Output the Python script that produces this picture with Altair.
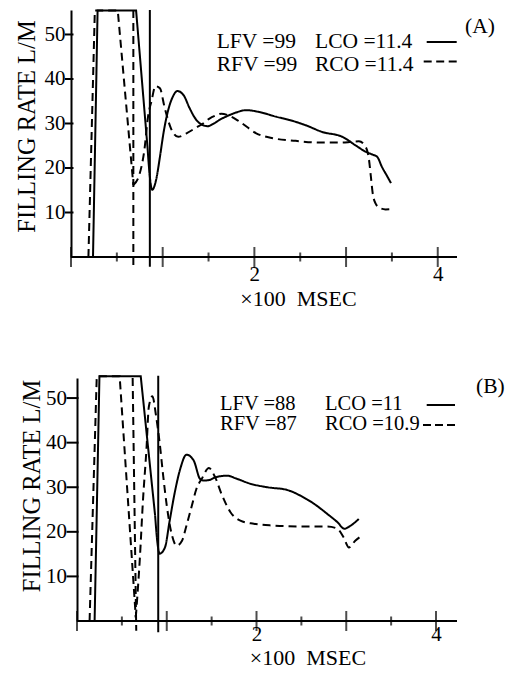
import altair as alt
import pandas as pd

FONT = "Liberation Serif"
PANEL_W = 386

# ---------------- Panel (A) ----------------
a_lco_edge_x = [0.24, 0.29, 0.71, 0.835]
a_lco_edge_y = [0.0, 55.4, 55.4, 24.5]
a_lco_wave_x = [0.835, 0.86, 0.885, 0.93, 0.97, 1.01, 1.06, 1.11, 1.16, 1.23, 1.29, 1.36, 1.43, 1.49, 1.56,
                1.62, 1.73, 1.82, 1.91, 2.05, 2.24, 2.38, 2.56, 2.74, 2.96, 3.11, 3.21, 3.29, 3.34, 3.39,
                3.45, 3.49]
a_lco_wave_y = [24.5, 18.0, 15.1, 17.5, 22.5, 28.0, 33.0, 36.0, 37.3, 36.3, 33.6, 31.0, 29.7, 29.4, 30.0,
                30.8, 31.9, 32.6, 33.0, 32.6, 31.5, 30.8, 29.6, 28.1, 27.0, 25.0, 23.7, 23.0, 22.5, 20.3,
                18.1, 16.6]
a_rco_edge_x = [0.19, 0.26, 0.51, 0.68]
a_rco_edge_y = [0.0, 55.4, 55.4, 16.2]
a_rco_wave_x = [0.68, 0.75, 0.80, 0.84, 0.88, 0.92, 0.97, 1.02, 1.09, 1.17, 1.26, 1.36, 1.44, 1.51, 1.58,
                1.64, 1.71, 1.84, 2.02, 2.20, 2.45, 2.71, 2.96, 3.06, 3.14, 3.21, 3.25, 3.27, 3.29, 3.32,
                3.37, 3.43, 3.52]
a_rco_wave_y = [16.2, 18.8, 24.0, 31.5, 35.2, 38.4, 37.9, 33.7, 28.9, 27.0, 27.8, 29.0, 30.0, 31.1, 31.8,
                32.2, 31.9, 30.4, 27.8, 26.7, 26.1, 25.7, 25.7, 25.9, 26.0, 24.9, 21.9, 18.2, 14.4, 12.1,
                11.0, 10.7, 10.8]
# vertical marker lines (x0, x1, y0, y1)
a_marker_solid = [0.86, 0.86, 55.5, -2.2]
a_marker_dashed = [0.68, 0.68, 55.5, -2.8]
a_legend_left = ["LFV =99", "RFV =99"]
a_legend_right = ["LCO =11.4", "RCO =11.4"]
a_label = "(A)"

# ---------------- Panel (B) ----------------
b_lco_edge_x = [0.196, 0.25, 0.71, 0.87]
b_lco_edge_y = [0.0, 54.9, 54.9, 23.7]
b_lco_wave_x = [0.87, 0.90, 0.92, 0.98, 1.03, 1.09, 1.15, 1.22, 1.30, 1.37, 1.41, 1.47, 1.54, 1.67, 1.78,
                1.93, 2.12, 2.34, 2.49, 2.64, 2.79, 2.90, 2.98, 3.05, 3.14]
b_lco_wave_y = [23.7, 16.9, 15.1, 16.5, 22.2, 28.9, 34.1, 37.3, 36.0, 31.9, 31.5, 31.6, 32.2, 32.6, 31.9,
                30.8, 30.0, 29.4, 28.1, 26.3, 24.0, 22.2, 20.7, 21.4, 22.9]
b_rco_edge_x = [0.14, 0.22, 0.475, 0.655]
b_rco_edge_y = [0.0, 54.9, 54.9, 0.8]
b_rco_wave_x = [0.655, 0.70, 0.736, 0.774, 0.80, 0.84, 0.88, 0.92, 0.96, 1.00, 1.05, 1.11, 1.17, 1.22, 1.28,
                1.33, 1.39, 1.47, 1.54, 1.61, 1.71, 1.82, 1.97, 2.19, 2.49, 2.79, 2.90, 2.97, 3.03, 3.10,
                3.18]
b_rco_wave_y = [0.8, 14.0, 27.4, 38.6, 48.0, 50.4, 46.1, 40.1, 32.6, 25.9, 19.9, 16.9, 18.0, 21.4, 25.9,
                29.6, 31.9, 34.3, 32.2, 28.5, 24.4, 22.5, 21.8, 21.4, 21.2, 21.2, 20.7, 18.8, 16.5, 18.0,
                19.2]
b_marker_solid = [0.905, 0.905, 55.0, -2.5]
b_marker_dashed = [0.62, 0.66, 54.5, -2.2]
b_legend_left = ["LFV =88", "RFV =87"]
b_legend_right = ["LCO =11", "RCO =10.9"]
b_label = "(B)"

# ---------------- shared axis content ----------------
x_major_ticks = [0, 1, 2, 3, 4]
x_minor_ticks = [0.5, 1.5, 2.5, 3.5]
x_tick_labels = [2, 4]
y_tick_values = [10, 20, 30, 40, 50]
y_title = "FILLING RATE L/M"
x_title = "\u00d7100\u00a0 MSEC"

DASH = alt.Scale(domain=["solid", "dashed"], range=[[1, 0], [8, 5]])


def series_df(parts):
    rows = []
    for seg, (kind, xs, ys) in enumerate(parts):
        for i, (xv, yv) in enumerate(zip(xs, ys)):
            rows.append({"x": xv, "y": yv, "seg": seg, "kind": kind, "i": i})
    return pd.DataFrame(rows)


def make_panel(edges, waves, markers, xdom, xaxis_end, ydom, height, ycfg, xcfg, texts, samples, anchor):
    xs = alt.Scale(domain=xdom, nice=False, zero=False)
    ys = alt.Scale(domain=ydom, nice=False, zero=False)
    units_per_px = (xdom[1] - xdom[0]) / PANEL_W

    yaxis = alt.Axis(
        title=y_title, values=y_tick_values, grid=False, ticks=False, tickSize=0,
        domainColor="black", domainWidth=2, offset=ycfg["offset"],
        labelFont=FONT, labelFontSize=21, labelColor="black", labelPadding=ycfg["labelPadding"],
        titleFont=FONT, titleFontSize=24.5, titleFontWeight="normal", titleColor="black",
        titleAngle=270, titleAlign="center", titleBaseline="middle",
        titleX=ycfg["titleX"], titleY=ycfg["titleY"],
    )
    xaxis = alt.Axis(
        values=x_tick_labels, grid=False, domain=False, ticks=False, tickSize=0,
        labelFont=FONT, labelFontSize=21, labelColor="black", labelBaseline="alphabetic",
        labelPadding=xcfg["labelPadding"], labelFlush=False,
        title=x_title, titleFont=FONT, titleFontSize=22, titleFontWeight="normal", titleColor="black",
        titleAngle=0, titleAlign="center", titleBaseline="alphabetic",
        titleX=xcfg["titleX"], titleY=xcfg["titleY"],
    )

    wave_layer = alt.Chart(series_df(waves)).mark_line(
        interpolate="monotone", color="black", strokeWidth=2
    ).encode(
        x=alt.X("x:Q", scale=xs, axis=xaxis),
        y=alt.Y("y:Q", scale=ys, axis=yaxis),
        detail="seg:N", order="i:Q",
        strokeDash=alt.StrokeDash("kind:N", scale=DASH, legend=None),
    )
    edge_layer = alt.Chart(series_df(edges)).mark_line(
        interpolate="linear", color="black", strokeWidth=2
    ).encode(
        x=alt.X("x:Q", scale=xs, axis=xaxis),
        y=alt.Y("y:Q", scale=ys, axis=yaxis),
        detail="seg:N", order="i:Q",
        strokeDash=alt.StrokeDash("kind:N", scale=DASH, legend=None),
    )
    mk = pd.DataFrame([{"x0": m[0], "x1": m[1], "y0": m[2], "y1": m[3], "kind": k} for k, m in markers])
    marker_layer = alt.Chart(mk).mark_rule(color="black", strokeWidth=2).encode(
        x=alt.X("x0:Q", scale=xs, axis=xaxis), x2="x1:Q",
        y=alt.Y("y0:Q", scale=ys, axis=yaxis), y2="y1:Q",
        strokeDash=alt.StrokeDash("kind:N", scale=DASH, legend=None),
    )
    one = pd.DataFrame({"v": [0]})
    axis_line = alt.Chart(one).mark_rule(color="black", strokeWidth=2).encode(
        x=alt.XDatum(0, type="quantitative", scale=xs, axis=xaxis),
        x2=alt.X2Datum(xaxis_end),
        y=alt.YDatum(0, type="quantitative", scale=ys, axis=yaxis),
    )
    major = alt.Chart(pd.DataFrame({"t": x_major_ticks})).mark_tick(
        orient="vertical", size=20, thickness=2, color="black"
    ).encode(
        x=alt.X("t:Q", scale=xs, axis=xaxis),
        y=alt.YDatum(0, type="quantitative", scale=ys, axis=yaxis),
    )
    minor = alt.Chart(pd.DataFrame({"t": x_minor_ticks})).mark_tick(
        orient="vertical", size=9, thickness=2, color="black"
    ).encode(
        x=alt.X("t:Q", scale=xs, axis=xaxis),
        y=alt.YDatum(0, type="quantitative", scale=ys, axis=yaxis),
    )
    # y-axis tick marks crossing the axis line (lengths given in pixels, converted to x units)
    yticks = alt.Chart(pd.DataFrame({"t": y_tick_values})).mark_rule(
        color="black", strokeWidth=2
    ).encode(
        x=alt.XDatum(-ycfg["tickOut"] * units_per_px, type="quantitative", scale=xs, axis=xaxis),
        x2=alt.X2Datum(ycfg["tickIn"] * units_per_px),
        y=alt.Y("t:Q", scale=ys, axis=yaxis),
    )
    layers = [wave_layer, edge_layer, marker_layer, axis_line, major, minor, yticks]

    for txt, px, py, fs in texts:
        layers.append(
            alt.Chart(pd.DataFrame({"t": [txt]})).mark_text(
                align="left", baseline="alphabetic", font=FONT, fontSize=fs, color="black"
            ).encode(x=alt.value(px), y=alt.value(py), text="t:N")
        )
    for x1, x2, yy, dash in samples:
        layers.append(
            alt.Chart(one).mark_rule(color="black", strokeWidth=2, strokeDash=dash).encode(
                x=alt.value(x1), x2=alt.value(x2), y=alt.value(yy), y2=alt.value(yy)
            )
        )
    if anchor:
        layers.append(
            alt.Chart(one).mark_rule(color="black", strokeOpacity=0, strokeWidth=1).encode(
                x=alt.value(-71), x2=alt.value(-70), y=alt.value(-10), y2=alt.value(-10)
            )
        )
    return alt.layer(*layers).properties(width=PANEL_W, height=height)


panel_a = make_panel(
    edges=[("solid", a_lco_edge_x, a_lco_edge_y), ("dashed", a_rco_edge_x, a_rco_edge_y)],
    waves=[("solid", a_lco_wave_x, a_lco_wave_y), ("dashed", a_rco_wave_x, a_rco_wave_y)],
    markers=[("solid", a_marker_solid), ("dashed", a_marker_dashed)],
    xdom=[0, 4.21], xaxis_end=4.21, ydom=[0, 55.5], height=247,
    ycfg={"offset": 0, "labelPadding": 6, "tickOut": 6, "tickIn": 2.5, "titleX": -44, "titleY": 116},
    xcfg={"labelPadding": 23.5, "titleX": 227, "titleY": 48.5},
    texts=[(a_legend_left[0], 145.7, 37.5, 21.5), (a_legend_left[1], 145.7, 61, 21.5),
           (a_legend_right[0], 244, 37.5, 21.5), (a_legend_right[1], 244, 61, 21.5),
           (a_label, 394, 23.3, 21.5)],
    samples=[(355.7, 385.7, 32, [1, 0]), (352.7, 385.7, 51.5, [8, 4.5])],
    anchor=True,
)

panel_b = make_panel(
    edges=[("solid", b_lco_edge_x, b_lco_edge_y), ("dashed", b_rco_edge_x, b_rco_edge_y)],
    waves=[("solid", b_lco_wave_x, b_lco_wave_y), ("dashed", b_rco_wave_x, b_rco_wave_y)],
    markers=[("solid", b_marker_solid), ("dashed", b_marker_dashed)],
    xdom=[-0.067, 4.234], xaxis_end=4.234, ydom=[0, 54.5], height=243,
    ycfg={"offset": -6, "labelPadding": 10.5, "tickOut": 10.5, "tickIn": 1.5, "titleX": -44.5, "titleY": 107.5},
    xcfg={"labelPadding": 19.5, "titleX": 236.5, "titleY": 43},
    texts=[(b_legend_left[0], 149, 32, 20.5), (b_legend_left[1], 149, 52, 20.5),
           (b_legend_right[0], 254, 32, 20.5), (b_legend_right[1], 254, 52, 20.5),
           (b_label, 405, 15, 21.5)],
    samples=[(355.7, 384, 27, [1, 0]), (352, 384, 47, [8, 4])],
    anchor=False,
)

chart = alt.vconcat(panel_a, panel_b, spacing=121, bounds="flush").properties(
    padding=0, background="white"
).configure_view(stroke=None)

chart.save("out.html", embed_options={"renderer": "svg", "actions": False})
